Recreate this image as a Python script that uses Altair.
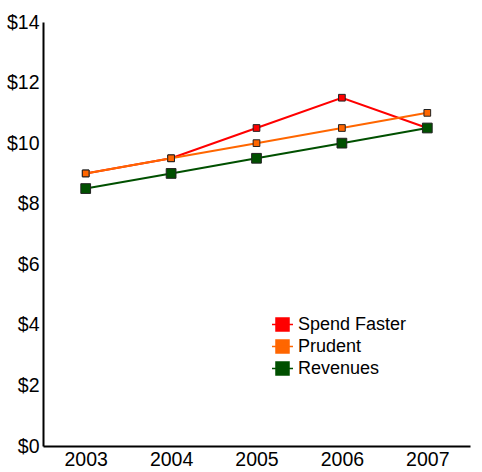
import altair as alt
import pandas as pd

years = [2003, 2004, 2005, 2006, 2007]
spend_faster = [9.0, 9.5, 10.5, 11.5, 10.5]
prudent = [9.0, 9.5, 10.0, 10.5, 11.0]
revenues = [8.5, 9.0, 9.5, 10.0, 10.5]
series = ["Spend Faster", "Prudent", "Revenues"]
colors = ["#ff0000", "#ff6600", "#005000"]
marker_size = {"Spend Faster": 45, "Prudent": 45, "Revenues": 95}

rows = []
for name, vals in zip(series, [spend_faster, prudent, revenues]):
    for y, v in zip(years, vals):
        rows.append({"year": str(y), "value": v, "series": name,
                     "msize": marker_size[name]})
df = pd.DataFrame(rows)

color = alt.Color(
    "series:N",
    scale=alt.Scale(domain=series, range=colors),
    legend=alt.Legend(
        title=None, orient="none", legendX=228, legendY=291,
        symbolType="M-1,0H1M-0.62,-0.62H0.62V0.62H-0.62Z",
        symbolSize=441, symbolStrokeWidth=1.5,
        labelFont="Liberation Sans", labelFontSize=18, labelColor="#000000",
        labelOffset=4, rowPadding=-1, padding=0,
    ),
)

x = alt.X("year:O", title=None,
          axis=alt.Axis(labelAngle=0, ticks=False, domainColor="#000000",
                        domainWidth=2, labelFont="Liberation Sans",
                        labelFontSize=19.5, labelColor="#000000", labelPadding=4))
y = alt.Y("value:Q", title=None,
          scale=alt.Scale(domain=[0, 14], nice=False),
          axis=alt.Axis(values=[0, 2, 4, 6, 8, 10, 12, 14], labelExpr="'$' + datum.value",
                        ticks=False, grid=False, domainColor="#000000", domainWidth=2,
                        labelFont="Liberation Sans", labelFontSize=19.5,
                        labelColor="#000000", labelPadding=4))

layers = []
for name in series:
    sub = alt.Chart(df).transform_filter(alt.datum.series == name)
    layers.append(sub.mark_line(strokeWidth=2).encode(
        x=x, y=y, color=color, order=alt.Order("year:O")))
    layers.append(sub.mark_point(shape="square", filled=True, stroke="#222222",
                                 strokeWidth=1, opacity=1).encode(
        x=x, y=y, color=color,
        size=alt.Size("msize:Q", scale=None, legend=None)))

chart = alt.layer(*layers).properties(
    width=427, height=424,
    autosize=alt.AutoSizeParams(type="none"),
    padding={"left": 43, "top": 22, "right": 12, "bottom": 26},
    background="#ffffff",
).configure_view(stroke=None).configure_axis(grid=False)

chart.save("out.html", embed_options={"renderer": "svg", "actions": False})
